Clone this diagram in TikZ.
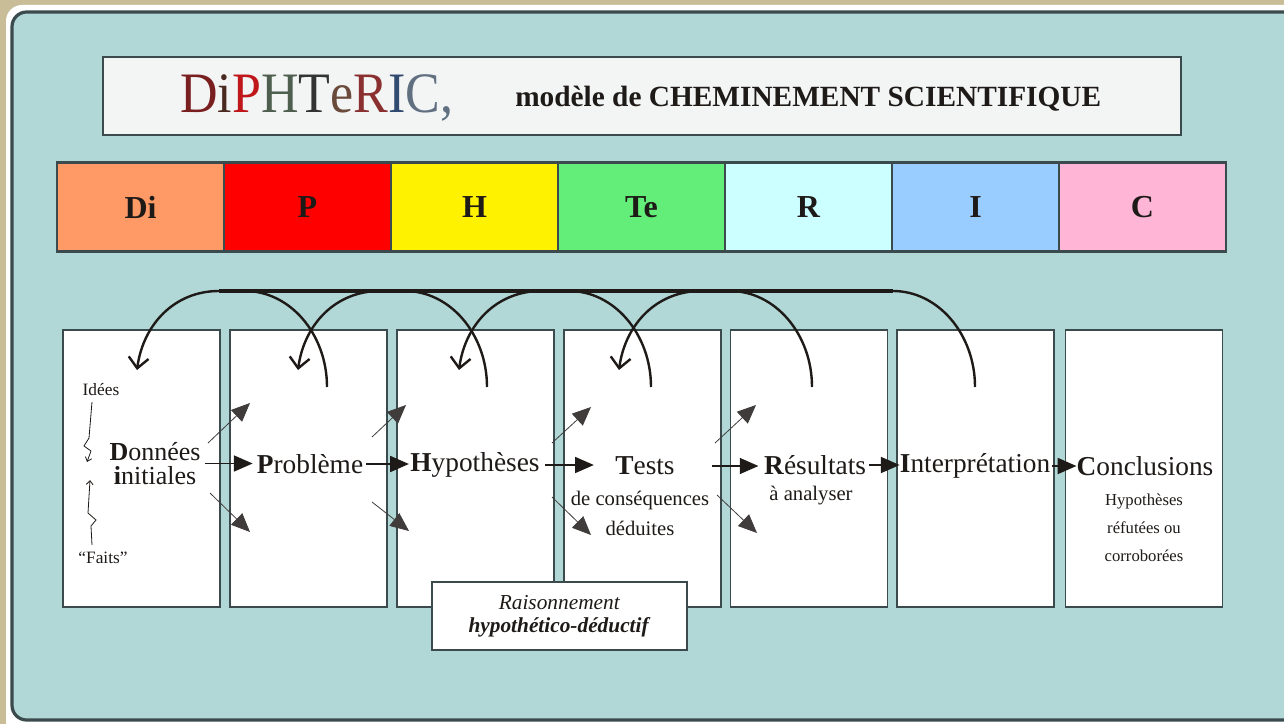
\documentclass[tikz,border=0pt]{standalone}
\usepackage{fontspec}
\setmainfont{Liberation Serif}
\usetikzlibrary{arrows.meta}
\newcommand\myfs[2]{\fontsize{#1}{#2}\selectfont}
\definecolor{beige}{HTML}{C8BD97}
\definecolor{panel}{HTML}{B1D7D7}
\definecolor{frame}{HTML}{3A4A4D}
\definecolor{ink}{HTML}{1E1A18}
\definecolor{titlefill}{HTML}{F3F4F4}
\definecolor{cDi}{HTML}{FF9966}
\definecolor{cP}{HTML}{FF0000}
\definecolor{cH}{HTML}{FFF200}
\definecolor{cTe}{HTML}{62EE78}
\definecolor{cR}{HTML}{CCFFFF}
\definecolor{cI}{HTML}{99CCFF}
\definecolor{cC}{HTML}{FFB6D6}
\definecolor{lD}{HTML}{7A1F1F}
\definecolor{li}{HTML}{4A2A20}
\definecolor{lP}{HTML}{C0181A}
\definecolor{lH}{HTML}{4F5F4F}
\definecolor{lT}{HTML}{333333}
\definecolor{le}{HTML}{6A4A3A}
\definecolor{lR}{HTML}{8A3030}
\definecolor{lI}{HTML}{304A70}
\definecolor{lC}{HTML}{607080}
\begin{document}
\begin{tikzpicture}[x=0.75pt,y=-0.75pt,
  dbox/.style={draw=frame, line width=1.4pt, fill=white, minimum width=117.75pt, minimum height=207.75pt, inner sep=0pt},
  dcell/.style={draw=frame, line width=0.8pt, minimum width=125.25pt, minimum height=66pt, inner sep=0pt, font=\myfs{24}{28}\bfseries, text=ink},
  dword/.style={inner sep=0pt, font=\myfs{20.5}{17.25}, text=ink},
  dsub/.style={inner sep=0pt, font=\myfs{15.5}{22.5}, text=ink, align=center},
  dsmall/.style={inner sep=0pt, font=\myfs{13}{16}, text=ink},
  dflow/.style={line width=1.1pt, draw=ink, -{Triangle[length=14pt,width=12pt]}},
  dside/.style={line width=0.6pt, draw=ink!85, -{Triangle[length=14pt,width=12pt]}},
  dloop/.style={line width=1.8pt, draw=ink, -{Straight Barb[length=8pt,width=15pt]}},
  dtail/.style={line width=1.8pt, draw=ink},
  dbus/.style={line width=3pt, draw=ink},
  dzig/.style={line width=0.6pt, draw=ink, -{Straight Barb[length=3pt,width=5pt]}}]
% background and panel
\fill[beige] (0,0) rectangle (1284,724);
\useasboundingbox (0,0) rectangle (1284,724);
\fill[white, rounded corners=12] (6,5) rectangle (1330,740);
\draw[frame, line width=2.4pt, fill=panel, rounded corners=11] (12,12) rectangle (1330,720);

% title box
\node[draw=frame, line width=1.5pt, fill=titlefill, minimum width=808.5pt, minimum height=58.5pt, inner sep=0pt] (title) at (642,96) {};
\node[anchor=base west, inner sep=0pt, font=\myfs{39}{40}] (logo) at (180,113)
  {\scalebox{1}[1.1]{\textcolor{lD}{D}\textcolor{li}{i}\textcolor{lP}{P}\textcolor{lH}{H}\textcolor{lT}{T}\textcolor{le}{e}\textcolor{lR}{R}\textcolor{lI}{I}\textcolor{lC}{C}\textcolor{lC}{,}}};
\node[anchor=base west, inner sep=0pt, font=\myfs{22}{24}\bfseries, text=ink] (subtitle) at (515,106)
  {modèle de CHEMINEMENT SCIENTIFIQUE};

% colour bar
\node[dcell, fill=cDi] (c1) at (140.5,207) {Di};
\node[dcell, fill=cP]  (c2) at (307.5,207) {P};
\node[dcell, fill=cH]  (c3) at (474.5,207) {H};
\node[dcell, fill=cTe] (c4) at (641.5,207) {Te};
\node[dcell, fill=cR]  (c5) at (808.5,207) {R};
\node[dcell, fill=cI]  (c6) at (975.5,207) {I};
\node[dcell, fill=cC]  (c7) at (1142.5,207) {C};
\draw[frame, line width=2.6pt] (c1.north west) -- (c7.north east);
\draw[frame, line width=2.6pt] (c1.south west) -- (c7.south east);

% boxes
\node[dbox] (b1) at (141.5,468.5) {};
\node[dbox] (b2) at (308.5,468.5) {};
\node[dbox] (b3) at (475.5,468.5) {};
\node[dbox] (b4) at (642.5,468.5) {};
\node[dbox] (b5) at (809,468.5) {};
\node[dbox] (b6) at (975.5,468.5) {};
\node[dbox] (b7) at (1144,468.5) {};

% loop-back arcs
\foreach \n/\x in {1/327,2/487,3/651,4/812,5/975}{
  \coordinate (t\n) at (\x,387);
  \coordinate (tt\n) at (\x-82,291);
}
\foreach \n/\x in {1/137,2/298,3/459,4/619}{
  \coordinate (h\n) at (\x,370);
  \coordinate (hh\n) at (\x+82,291);
}
\draw[dbus] (hh1) -- (tt5);
\foreach \n in {1,...,5}{
  \draw[dtail] (t\n) .. controls +(0,-53) and +(45,0) .. (tt\n);
}
\foreach \n in {1,...,4}{
  \draw[dloop] (hh\n) .. controls +(-45,0) and +(6,-45) .. (h\n);
}

% box texts
\node[dword, align=center, font=\myfs{19.5}{18}] (don) at (155,463.5) {\textbf{D}onnées\\\textbf{i}nitiales};
\node[dsmall] (idees) at (101,390) {Idées};
\node[dsmall] (faits) at (103,558) {“Faits”};
\node[dword] (prob) at (310,464) {\textbf{P}roblème};
\node[dword] (hyp) at (475,465) {\textbf{H}ypothèses};
\node[dword] (tests) at (645,466) {\textbf{T}ests};
\node[dsub] (conseq) at (640,513) {de conséquences\\déduites};
\node[dword] (res) at (815,465) {\textbf{R}ésultats};
\node[dsub] (anal) at (811,496) {à analyser};
\node[dword] (interp) at (975,466) {\textbf{I}nterprétation};
\node[dword] (concl) at (1145,466) {\textbf{C}onclusions};
\node[dsub, font=\myfs{12.5}{21}] (conclsub) at (1144,528) {Hypothèses\\réfutées ou\\corroborées};

% zigzag arrows near Idees / Faits
\coordinate (zd0) at (92,402); \coordinate (zd1) at (89,438); \coordinate (zd2) at (84,446);
\coordinate (zd3) at (91,451); \coordinate (zd4) at (87,462);
\draw[dzig] (zd0) -- (zd1) -- (zd2) -- (zd3) -- (zd4);
\coordinate (zu0) at (92,545); \coordinate (zu1) at (91,526); \coordinate (zu2) at (96,520);
\coordinate (zu3) at (88,513); \coordinate (zu4) at (90,480);
\draw[dzig] (zu0) -- (zu1) -- (zu2) -- (zu3) -- (zu4);

% main flow arrows
\draw[dflow] ([xshift=3pt]don.east) -- ([xshift=-3pt]don.east -| prob.west);
\draw[dflow] ([xshift=2pt]prob.east) -- ([xshift=-1pt]prob.east -| hyp.west);
\draw[dflow] ([xshift=4pt]hyp.east) -- ([xshift=-16pt]hyp.east -| tests.west);
\draw[dflow] ([xshift=2pt]conseq.east |- tests.east) -- ([xshift=-4pt]tests.east -| res.west);
\draw[dflow] ([xshift=2pt]res.east) -- (res.east -| interp.west);
\draw[dflow] ([xshift=1pt]interp.east) -- (interp.east -| concl.west);

% side (diagonal) arrows
\coordinate (s1a) at (208,443); \coordinate (s1b) at (250,403);
\coordinate (s1c) at (210,493); \coordinate (s1d) at (250,532);
\coordinate (s2a) at (372,437); \coordinate (s2b) at (406,405);
\coordinate (s2c) at (372,502); \coordinate (s2d) at (409,531);
\coordinate (s3a) at (552,443); \coordinate (s3b) at (591,407);
\coordinate (s3c) at (552,497); \coordinate (s3d) at (591,535);
\coordinate (s4a) at (715,443); \coordinate (s4b) at (756,405);
\coordinate (s4c) at (717,495); \coordinate (s4d) at (757,533);
\foreach \n in {1,...,4}{
  \draw[dside] (s\n a) -- (s\n b);
  \draw[dside] (s\n c) -- (s\n d);
}

% reasoning box
\node[draw=frame, line width=1.2pt, fill=white, minimum width=191.25pt, minimum height=51pt, inner sep=0pt,
  align=center, font=\myfs{16}{17.5}, text=ink] (rais) at (559.5,616)
  {\textit{Raisonnement}\\\textbf{\textit{hypothético-déductif}}};
\end{tikzpicture}
\end{document}
